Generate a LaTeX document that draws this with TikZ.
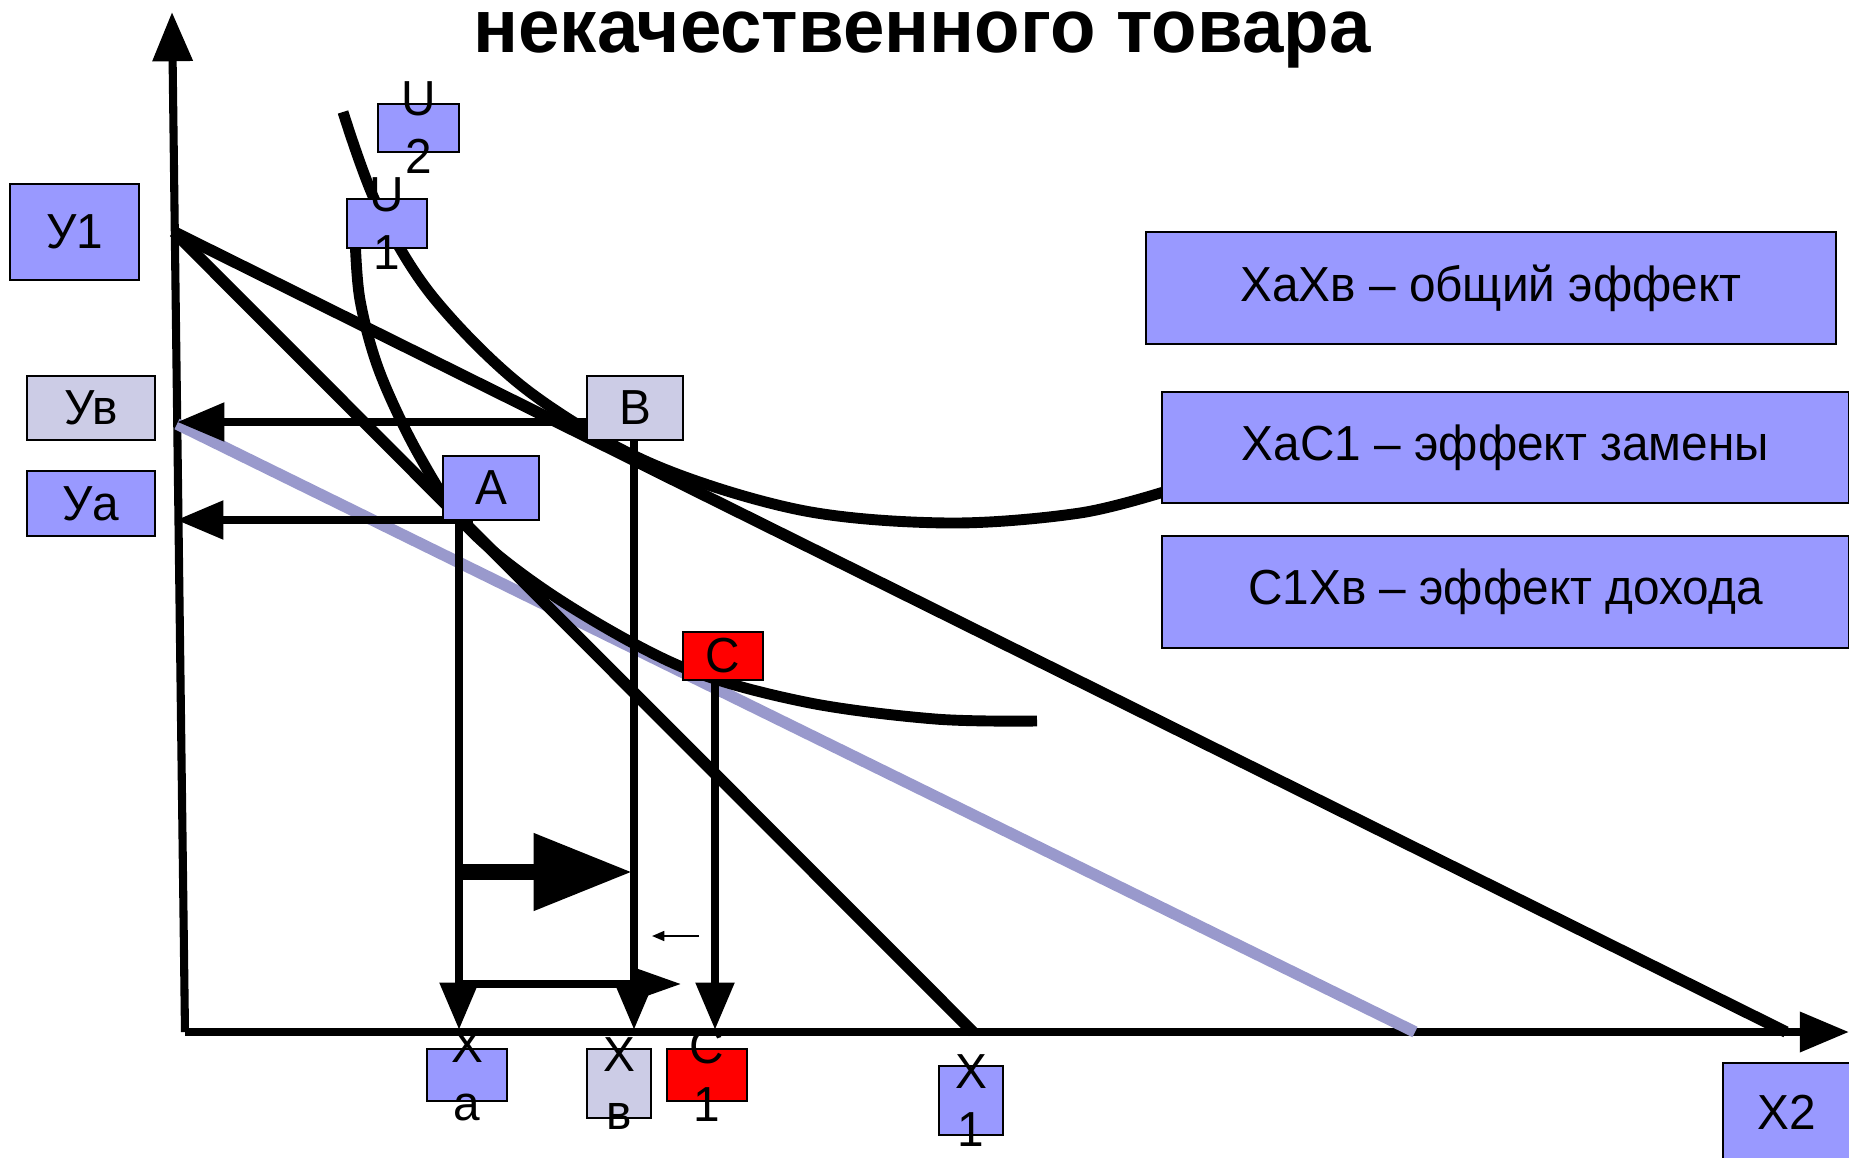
\documentclass[tikz,border=0pt]{standalone}
\usepackage{fontspec}
\setmainfont{Liberation Sans}[FakeStretch=0.97]
\newfontfamily\headfont{Liberation Sans}[FakeStretch=0.985]
\usetikzlibrary{arrows.meta}
\definecolor{boxblue}{RGB}{153,153,255}
\definecolor{boxpale}{RGB}{204,204,230}
\definecolor{boxred}{RGB}{255,0,0}
\definecolor{budgetpale}{RGB}{153,153,204}
\begin{document}
\begin{tikzpicture}[
            x=0.01cm, y=-0.01cm,
            every node/.style={font=\fontsize{14}{16.5}\selectfont, inner sep=0pt},
            box/.style={draw, line width=0.6pt, fill=boxblue, align=center},
            palebox/.style={box, fill=boxpale},
            redbox/.style={box, fill=boxred},
            axis/.style={line width=2.3pt, -{Triangle[length=14pt,width=11pt]}},
            budget/.style={line width=3.3pt},
            indiff/.style={line width=3.1pt},
            drop/.style={line width=2.5pt, -{Triangle[length=13.5pt,width=10.5pt]}}
            ]
        \useasboundingbox (0,0) rectangle (1849,1158);
        \node[font=\headfont\bfseries\fontsize{21.5}{26}\selectfont, anchor=base, text height=0.55em] (title) at (922,53) {некачественного товара};
        % axes
        \coordinate (origin) at (185,1032);
        \coordinate (xtip) at (1849,1032);
        \coordinate (ytip) at (172,12);
        \draw[axis] (origin) -- (xtip);
        \draw[axis] (origin) -- (ytip);
        % budget lines
        \coordinate (ystart) at (174,232);
        \coordinate (ypale) at (177,424);
        \coordinate (xone) at (973,1032);
        \coordinate (xtwo) at (1786,1032);
        \coordinate (xpale) at (1415,1032);
        \draw[budget, budgetpale] (ypale) -- (xpale);
        \draw[budget] (ystart) -- (xtwo);
        \draw[budget] (ystart) -- (xone);
        % indifference curves
        \draw[indiff] plot[smooth, tension=0.55] coordinates {(355,235) (360,300) (380,373) (420,457) (470,530) (560,600) (682,667) (805,702) (935,719) (1037,721)};
        \draw[indiff] plot[smooth, tension=0.55] coordinates {(343,112) (377,205) (433,297) (527,390) (650,463) (800,510) (948,523) (1080,513) (1170,490)};
        % projections
        \coordinate (A) at (459,520);
        \coordinate (B) at (634,440);
        \coordinate (C) at (715,680);
        \coordinate (Bh) at (587,422);
        \coordinate (Ah) at (473,520);
        \coordinate (ybax) at (177,422);
        \coordinate (yaax) at (176,520);
        \draw[drop] (Bh) -- (ybax);
        \draw[drop] (Ah) -- (yaax);
        \draw[drop] (A) -- ([yshift=0.02cm]A |- origin);
        \draw[drop] (B) -- ([yshift=0.02cm]B |- origin);
        \draw[drop] (C) -- ([yshift=0.02cm]C |- origin);
        \coordinate (shiftL) at (459,984);
        \coordinate (shiftR) at (682,984);
        \draw[line width=2.5pt, -{Triangle[length=13.5pt,width=8.5pt]}] (shiftL) -- (shiftR);
        \coordinate (bigL) at (459,872);
        \coordinate (bigR) at (632,872);
        \draw[line width=4.3pt, -{Triangle[length=28pt,width=21pt]}] (bigL) -- (bigR);
        \coordinate (smallR) at (699,936);
        \coordinate (smallL) at (652,936);
        \draw[line width=0.6pt, -{Triangle[length=3.5pt,width=2.8pt]}] (smallR) -- (smallL);
        % labels
        \node[box, minimum width=1.29cm, minimum height=0.96cm] (y1) at (74.5,232) {У1};
        \node[palebox, minimum width=1.28cm, minimum height=0.64cm] (yb) at (91,408) {Ув};
        \node[box, minimum width=1.28cm, minimum height=0.65cm] (ya) at (91,503.5) {Уа};
        \node[box, minimum width=0.81cm, minimum height=0.48cm, label={[align=center]center:U\\2}] (u2) at (418.5,128) {};
        \node[box, minimum width=0.80cm, minimum height=0.49cm, label={[align=center]center:U\\1}] (u1) at (387,223.5) {};
        \node[palebox, minimum width=0.96cm, minimum height=0.64cm] (ptB) at (635,408) {В};
        \node[box, minimum width=0.96cm, minimum height=0.64cm] (ptA) at (491,488) {А};
        \node[redbox, minimum width=0.80cm, minimum height=0.48cm] (ptC) at (723,656) {С};
        \node[box, minimum width=0.80cm, minimum height=0.52cm, label={[align=center]center:Х\\а}] (xa) at (467,1075) {};
        \node[palebox, minimum width=0.64cm, minimum height=0.69cm, label={[align=center]center:Х\\в}] (xb) at (619,1083.5) {};
        \node[redbox, minimum width=0.80cm, minimum height=0.52cm, label={[align=center]center:С\\1}] (c1) at (707,1075) {};
        \node[box, minimum width=0.64cm, minimum height=0.69cm, label={[align=center]center:Х\\1}] (x1) at (971,1100.5) {};
        \node[box, minimum width=1.28cm, minimum height=0.98cm] (x2) at (1787,1112) {Х2};
        \node[box, minimum width=6.90cm, minimum height=1.12cm] (total) at (1491,288) {ХаХв – общий эффект};
        \node[box, minimum width=6.87cm, minimum height=1.11cm] (subst) at (1505.5,447.5) {ХаС1 – эффект замены};
        \node[box, minimum width=6.87cm, minimum height=1.12cm] (income) at (1505.5,592) {С1Хв – эффект дохода};
        \end{tikzpicture}
\end{document}
